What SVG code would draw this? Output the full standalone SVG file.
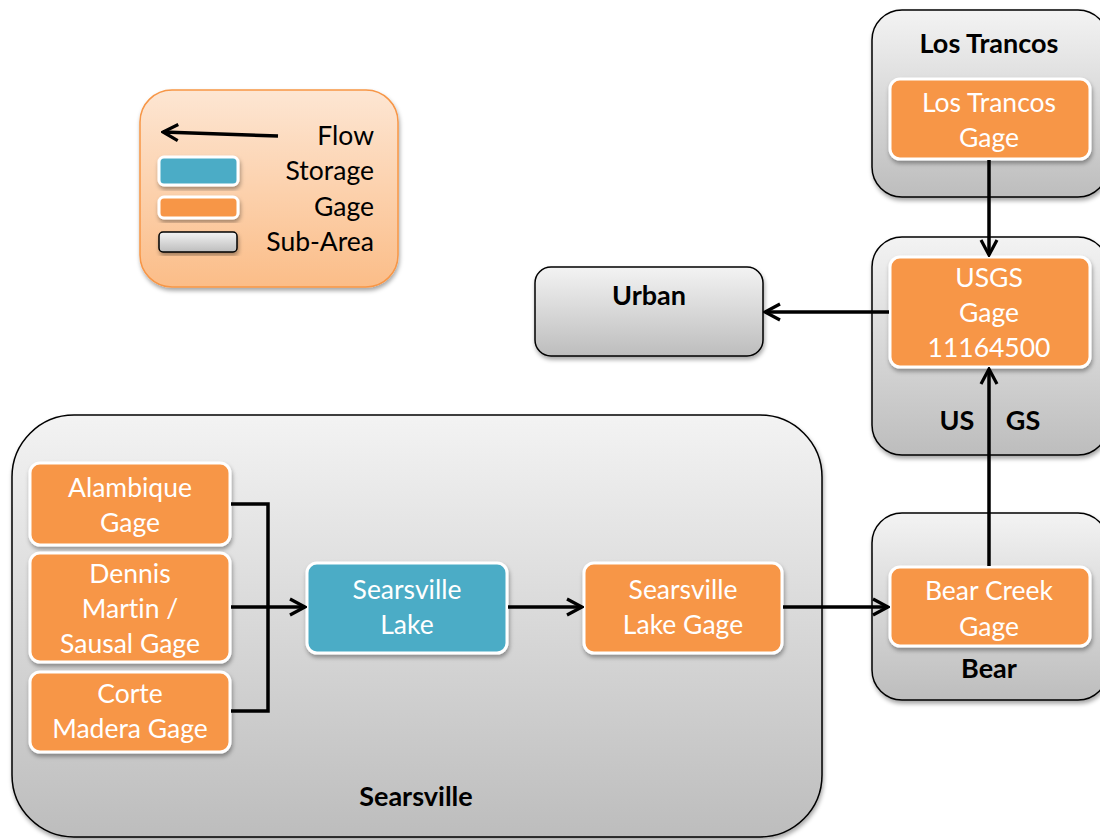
<svg xmlns="http://www.w3.org/2000/svg" width="1100" height="840" viewBox="0 0 1100 840">
<defs>
<linearGradient id="gSub" x1="0" y1="0" x2="0" y2="1">
<stop offset="0" stop-color="#f3f3f3"/>
<stop offset="1" stop-color="#bdbdbd"/>
</linearGradient>
<linearGradient id="gLeg" x1="0" y1="0" x2="0" y2="1">
<stop offset="0" stop-color="#fde6d3"/>
<stop offset="1" stop-color="#fbbd88"/>
</linearGradient>
<filter id="sh" x="-10%" y="-10%" width="120%" height="130%">
<feDropShadow dx="1" dy="3" stdDeviation="2" flood-color="#000" flood-opacity="0.35"/>
</filter>
<marker id="arL" viewBox="0 0 22 22" refX="20" refY="11" markerWidth="22" markerHeight="22" markerUnits="userSpaceOnUse" orient="auto">
<path d="M5,3 L20,11 L5,19" fill="none" stroke="#000" stroke-width="3.2"/>
</marker>
</defs>
<style>
text{font-family:Lato,"Open Sans","Liberation Sans",sans-serif;font-variant-ligatures:none;font-feature-settings:"liga" 0}
.sub{fill:url(#gSub);stroke:#000;stroke-width:1.5;filter:url(#sh)}
.gage{fill:#f79646;stroke:#fff;stroke-width:3;filter:url(#sh)}
.stor{fill:#4bacc6;stroke:#fff;stroke-width:3;filter:url(#sh)}
.nt{font-size:26.5px;fill:#fff;text-anchor:middle}
.st{font-size:27px;font-weight:bold;fill:#000;text-anchor:middle}
.lt{font-size:26.5px;fill:#000;text-anchor:end}
.cn{fill:none;stroke:#000;stroke-width:3.5}
</style>

<g id="legend">
<rect x="140" y="90" width="258" height="197" rx="32" fill="url(#gLeg)" stroke="#f79646" stroke-width="1.5" filter="url(#sh)"/>
<line x1="278" y1="136" x2="163" y2="132" stroke="#000" stroke-width="3.5" marker-end="url(#arL)"/>
<rect x="159" y="157" width="79" height="28" rx="5" class="stor"/>
<rect x="159" y="197" width="79" height="21" rx="5" class="gage"/>
<rect x="159" y="232" width="78" height="20" rx="4" class="sub" stroke-width="1.2"/>
<text x="374" y="145" class="lt">Flow</text>
<text x="374" y="180" class="lt">Storage</text>
<text x="374" y="216" class="lt">Gage</text>
<text x="374" y="251" class="lt">Sub-Area</text>
</g>

<g id="searsville">
<rect x="12" y="415" width="810" height="422" rx="62" class="sub"/>
<text x="416" y="806" class="st">Searsville</text>
</g>

<g id="lostrancos">
<rect x="872" y="10" width="236" height="187" rx="30" class="sub"/>
<text x="989" y="53" class="st">Los Trancos</text>
</g>

<g id="usgs">
<rect x="872" y="237" width="236" height="218" rx="30" class="sub"/>
<text x="957" y="430" class="st">US</text>
<text x="1023" y="430" class="st">GS</text>
</g>

<g id="bear">
<rect x="872" y="513" width="236" height="187" rx="30" class="sub"/>
<text x="989" y="678" class="st">Bear</text>
</g>

<g id="urban">
<rect x="535" y="267" width="228" height="89" rx="16" class="sub"/>
<text x="649" y="305" class="st">Urban</text>
</g>

<g id="lostrancos-gage">
<rect x="890" y="79" width="200" height="80" rx="10" class="gage"/>
<text x="989" y="112" class="nt">Los Trancos</text>
<text x="989" y="147" class="nt">Gage</text>
</g>

<g id="usgs-gage">
<rect x="890" y="257" width="200" height="110" rx="10" class="gage"/>
<text x="989" y="287" class="nt">USGS</text>
<text x="989" y="322" class="nt">Gage</text>
<text x="989" y="357" class="nt">11164500</text>
</g>

<g id="bear-gage">
<rect x="890" y="567" width="200" height="79" rx="10" class="gage"/>
<text x="989" y="600" class="nt">Bear Creek</text>
<text x="989" y="636" class="nt">Gage</text>
</g>

<g id="alambique">
<rect x="30" y="463" width="200" height="82" rx="10" class="gage"/>
<text x="130" y="497" class="nt">Alambique</text>
<text x="130" y="532" class="nt">Gage</text>
</g>

<g id="dennis">
<rect x="30" y="553" width="200" height="109" rx="10" class="gage"/>
<text x="130" y="583" class="nt">Dennis</text>
<text x="130" y="618" class="nt">Martin /</text>
<text x="130" y="653" class="nt">Sausal Gage</text>
</g>

<g id="corte">
<rect x="30" y="672" width="200" height="80" rx="10" class="gage"/>
<text x="130" y="703" class="nt">Corte</text>
<text x="130" y="738" class="nt">Madera Gage</text>
</g>

<g id="searsville-lake">
<rect x="307" y="563" width="200" height="90" rx="10" class="stor"/>
<text x="407" y="599" class="nt">Searsville</text>
<text x="407" y="634" class="nt">Lake</text>
</g>

<g id="searsville-lake-gage">
<rect x="584" y="563" width="198" height="90" rx="10" class="gage"/>
<text x="683" y="599" class="nt">Searsville</text>
<text x="683" y="634" class="nt">Lake Gage</text>
</g>

<g id="connectors">
<polyline class="cn" points="231,504 268,504 268,711 231,711"/>
<line class="cn" x1="231" y1="607" x2="305" y2="607" marker-end="url(#arL)"/>
<line class="cn" x1="508" y1="607" x2="582" y2="607" marker-end="url(#arL)"/>
<line class="cn" x1="783" y1="607" x2="888" y2="607" marker-end="url(#arL)"/>
<line class="cn" x1="989" y1="566" x2="989" y2="369" marker-end="url(#arL)"/>
<line class="cn" x1="989" y1="160" x2="989" y2="255" marker-end="url(#arL)"/>
<line class="cn" x1="889" y1="312" x2="765" y2="312" marker-end="url(#arL)"/>
</g>
</svg>
